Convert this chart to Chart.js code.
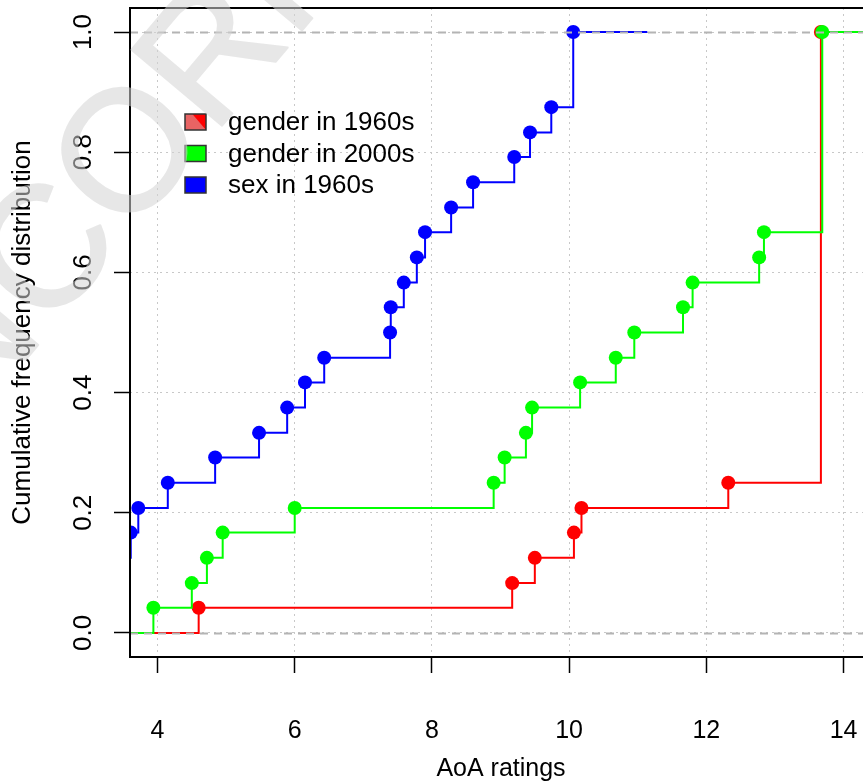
<!DOCTYPE html>
<html>
<head>
<meta charset="utf-8">
<title>Cumulative frequency distribution of AoA ratings</title>
<script src="https://cdn.jsdelivr.net/npm/chart.js@4.4.1/dist/chart.umd.min.js"></script>
<style>
    html, body { margin: 0; padding: 0; overflow: hidden; background: #fff; }
    #wrap { width: 872px; height: 784px; }
</style>
</head>
<body>
<div id="wrap"><canvas id="ecdfChart" width="872" height="784"></canvas></div>
<script>
// ── Data ──────────────────────────────────────────

const seriesLabels = ['gender in 1960s', 'gender in 2000s', 'sex in 1960s'];
const seriesColors = ['#FF0000', '#00FF00', '#0000FF'];

const xTicks = [4, 6, 8, 10, 12, 14];
const yTicks = [0, 0.2, 0.4, 0.6, 0.8, 1.0];
const refLines = [0, 1];

// gender in 1960s
const redX = [4.60, 9.17, 9.50, 10.07, 10.18, 12.32, 13.67];
const redY = [0.042, 0.083, 0.125, 0.167, 0.208, 0.250, 1.000];
const redRange = [3.0, 14.6];

// gender in 2000s
const greenX = [3.94, 4.50, 4.72, 4.95, 6.00, 8.90, 9.06, 9.37, 9.46, 10.16,
                10.68, 10.95, 11.66, 11.80, 12.77, 12.84, 13.69];
const greenY = [0.042, 0.083, 0.125, 0.167, 0.208, 0.250, 0.292, 0.333, 0.375, 0.417,
                0.458, 0.500, 0.542, 0.583, 0.625, 0.667, 1.000];
const greenRange = [3.0, 14.6];

// sex in 1960s
const blueX = [3.30, 3.61, 3.72, 4.15, 4.84, 5.48, 5.89, 6.15, 6.43, 7.39,
               7.40, 7.59, 7.78, 7.90, 8.28, 8.60, 9.20, 9.43, 9.74, 10.06];
const blueY = [0.125, 0.167, 0.208, 0.250, 0.292, 0.333, 0.375, 0.417, 0.458, 0.500,
               0.542, 0.583, 0.625, 0.667, 0.708, 0.750, 0.792, 0.833, 0.875, 1.000];
const blueRange = [3.0, 11.14];

// ── Helpers ───────────────────────────────────────

const FONT = '"Liberation Sans", Arial, Helvetica, sans-serif';

function stepData(xs, ys, range) {
    const pts = [{ x: range[0], y: 0 }];
    xs.forEach((x, i) => pts.push({ x: x, y: ys[i] }));
    pts.push({ x: range[1], y: ys[ys.length - 1] });
    return pts;
}

function ecdfDataset(idx, xs, ys, range, order) {
    const color = seriesColors[idx];
    return {
        label: seriesLabels[idx],
        data: stepData(xs, ys, range),
        borderColor: color,
        backgroundColor: color,
        borderWidth: 2,
        stepped: true,
        fill: false,
        clip: 0,
        order: order,
        // no marker on the two extension ends of each step function
        pointRadius: ctx => (ctx.dataIndex === 0 || ctx.dataIndex === ctx.dataset.data.length - 1) ? 0 : 7,
        pointBorderWidth: 0,
        pointHoverRadius: 0
    };
}

// ── Plugins ───────────────────────────────────────

const refLinePlugin = {
    id: 'refLines',
    afterDatasetsDraw(chart) {
        const { ctx, chartArea: a, scales: { y } } = chart;
        ctx.save();
        ctx.beginPath();
        ctx.rect(a.left, a.top, a.right - a.left, a.bottom - a.top);
        ctx.clip();
        ctx.strokeStyle = '#B4B4B4';
        ctx.lineWidth = 2;
        ctx.setLineDash([8, 6]);
        refLines.forEach(v => {
            const py = Math.round(y.getPixelForValue(v)) + 0.5;
            ctx.beginPath();
            ctx.moveTo(a.left, py);
            ctx.lineTo(a.right, py);
            ctx.stroke();
        });
        ctx.restore();

        // plot box
        ctx.save();
        ctx.strokeStyle = '#000';
        ctx.lineWidth = 2;
        ctx.strokeRect(a.left, a.top, a.right - a.left, a.bottom - a.top);
        ctx.restore();
    }
};

const boxLegendPlugin = {
    id: 'boxLegend',
    afterDatasetsDraw(chart) {
        const { ctx, chartArea: a } = chart;
        const x0 = a.left + 55, y0 = a.top + 106, rowH = 31.5, bw = 21, bh = 16;
        ctx.save();
        ctx.font = '26px ' + FONT;
        ctx.textBaseline = 'middle';
        seriesLabels.forEach((label, i) => {
            const by = y0 + i * rowH;
            if (i === 0) {
                ctx.fillStyle = '#E86464';
                ctx.fillRect(x0, by, bw, bh);
                ctx.fillStyle = seriesColors[0];
                ctx.beginPath();
                ctx.moveTo(x0 + bw * 0.35, by);
                ctx.lineTo(x0 + bw, by);
                ctx.lineTo(x0 + bw, by + bh);
                ctx.closePath();
                ctx.fill();
            } else {
                ctx.fillStyle = seriesColors[i];
                ctx.fillRect(x0, by, bw, bh);
            }
            ctx.strokeStyle = '#333';
            ctx.lineWidth = 1.5;
            ctx.strokeRect(x0, by, bw, bh);
            ctx.fillStyle = '#000';
            ctx.fillText(label, x0 + 43, by + bh / 2 + 1);
        });
        ctx.restore();
    }
};

const watermarkPlugin = {
    id: 'watermark',
    afterDraw(chart) {
        const { ctx, width, height } = chart;
        const text = 'UNCORRECTED PROOF';
        const size = 172;
        const ang = -50 * Math.PI / 180;
        const off = document.createElement('canvas');
        off.width = width;
        off.height = height;
        const o = off.getContext('2d');
        o.font = size + 'px ' + FONT;
        const wUN = o.measureText('UN').width;
        const wC = o.measureText('C').width;
        // centre of the first "C" sits near (40, 247)
        const lx = wUN + wC / 2, ly = -0.358 * size;
        const ox = 40 - (lx * Math.cos(ang) - ly * Math.sin(ang));
        const oy = 247 - (lx * Math.sin(ang) + ly * Math.cos(ang));
        o.translate(ox, oy);
        o.rotate(ang);
        o.fillStyle = 'rgb(212,212,212)';
        o.strokeStyle = 'rgb(212,212,212)';
        o.lineWidth = 2;
        o.lineJoin = 'round';
        o.fillText(text, 0, 0);
        o.strokeText(text, 0, 0);
        ctx.save();
        ctx.globalAlpha = 0.55;
        ctx.drawImage(off, 0, 0);
        ctx.restore();
    }
};

// ── Chart ─────────────────────────────────────────

new Chart(document.getElementById('ecdfChart'), {
    type: 'line',
    data: {
        datasets: [
            ecdfDataset(0, redX, redY, redRange, 3),
            ecdfDataset(1, greenX, greenY, greenRange, 2),
            ecdfDataset(2, blueX, blueY, blueRange, 1)
        ]
    },
    options: {
        responsive: false,
        animation: false,
        devicePixelRatio: 1,
        layout: { padding: { top: 8, left: 0, right: 0, bottom: 0 } },
        scales: {
            x: {
                type: 'linear',
                min: 3.599,
                max: 14.415,
                afterBuildTicks: s => { s.ticks = xTicks.map(v => ({ value: v })); },
                afterFit: s => { s.height = 127; s.paddingLeft = 0; s.paddingRight = 0; },
                grid: {
                    color: '#C8C8C8',
                    lineWidth: 1,
                    tickLength: 16,
                    tickColor: '#000',
                    tickWidth: 1.5,
                    tickBorderDash: []
                },
                border: { display: false, dash: [2, 4] },
                ticks: {
                    color: '#000',
                    padding: 43,
                    maxRotation: 0,
                    font: { family: FONT, size: 25 },
                    callback: v => String(v)
                },
                title: {
                    display: true,
                    text: 'AoA ratings',
                    color: '#000',
                    font: { family: FONT, size: 25 },
                    padding: { top: 0, bottom: 0 }
                }
            },
            y: {
                min: -0.04,
                max: 1.04,
                afterBuildTicks: s => { s.ticks = yTicks.map(v => ({ value: v })); },
                afterFit: s => { s.width = 130; s.paddingTop = 0; s.paddingBottom = 0; },
                grid: {
                    color: '#C8C8C8',
                    lineWidth: 1,
                    tickLength: 16,
                    tickColor: '#000',
                    tickWidth: 1.5,
                    tickBorderDash: []
                },
                border: { display: false, dash: [2, 4] },
                ticks: {
                    color: '#000',
                    padding: 12,
                    minRotation: 90,
                    maxRotation: 90,
                    crossAlign: 'center',
                    font: { family: FONT, size: 26 },
                    callback: v => v.toFixed(1)
                },
                title: {
                    display: true,
                    text: 'Cumulative frequency distribution',
                    color: '#000',
                    font: { family: FONT, size: 26 },
                    padding: { top: 7, bottom: 0 }
                }
            }
        },
        plugins: {
            legend: { display: false },
            tooltip: { enabled: false }
        }
    },
    plugins: [refLinePlugin, boxLegendPlugin, watermarkPlugin]
});
</script>
</body>
</html>
